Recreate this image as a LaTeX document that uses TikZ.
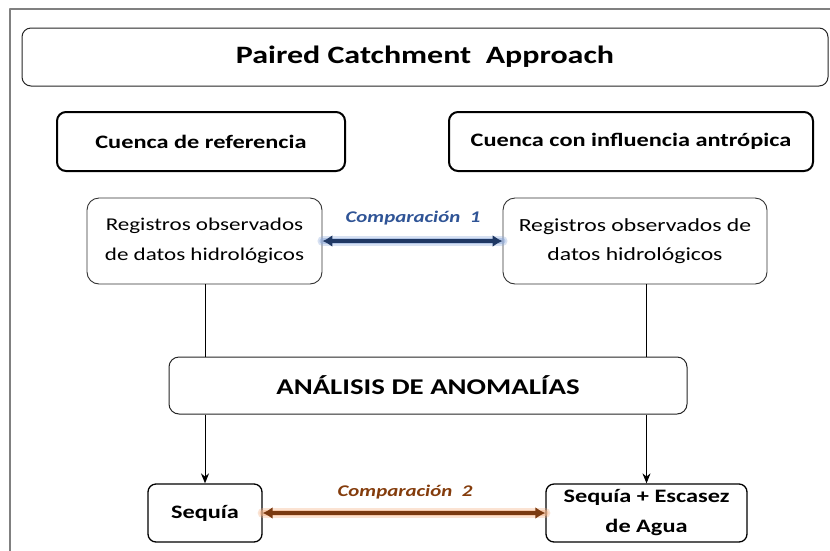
\documentclass[tikz,border=0pt]{standalone}
\usepackage{fontspec}
\setmainfont{Carlito}[FakeStretch=1.28]
\usetikzlibrary{arrows.meta}
\tikzset{>=latex}
\tikzset{every text node part/.style={align=center}}
\tikzset{
	titlebox/.style={draw=black!85, line width=1pt, rounded corners=9pt, minimum width=806pt, minimum height=58pt, font=\fontsize{25}{28}\selectfont\bfseries},
	basinbox/.style={draw=black, line width=2pt, rounded corners=9pt, minimum height=59pt, font=\fontsize{19}{22}\selectfont\bfseries},
	databox/.style={draw=black!80, line width=0.9pt, rounded corners=12pt, minimum height=86pt, font=\fontsize{18.5}{29.5}\selectfont},
	resultbox/.style={draw=black, line width=1.3pt, rounded corners=8pt, minimum height=58pt, font=\fontsize{19}{30}\selectfont\bfseries},
	cmplabel/.style={font=\fontsize{16.3}{20}\selectfont\bfseries\itshape},
	link/.style={line width=1pt, black},
}
\definecolor{navyline}{RGB}{31,56,100}
\definecolor{navytext}{RGB}{47,84,150}
\definecolor{navyglow}{RGB}{142,170,219}
\definecolor{brownline}{RGB}{123,58,16}
\definecolor{browntext}{RGB}{132,60,12}
\definecolor{brownglow}{RGB}{244,177,131}
\newcommand{\glowarrow}[4]{%
	\draw[line width=10pt, #3, opacity=0.35, line cap=round] (#1) -- (#2);
	\draw[line width=6pt, #3, opacity=0.5, line cap=round] (#1) -- (#2);
	\draw[line width=3.5pt, #4, {Latex[length=10pt,width=12pt]}-{Latex[length=10pt,width=12pt]}] (#1) -- (#2);
}

\begin{document}
\begin{tikzpicture}[x=1pt, y=-1pt, line join=round]
	\useasboundingbox[fill=white] (0,0) rectangle (830,550);

	% Frame
	\draw[line width=1.2pt, black!50] (10,560) -- (10,9) -- (840,9);

	% Nodes
	\node[titlebox] (title) at (425,57) {Paired Catchment \ Approach};
	\node[basinbox, minimum width=288pt] (refer) at (201,141.5) {Cuenca de referencia};
	\node[basinbox, minimum width=364pt] (antro) at (631,141.5) {Cuenca con influencia antrópica};
	\node[databox, minimum width=235pt, font=\fontsize{18}{29.5}\selectfont] (regL) at (204.5,241) {Registros observados\\de datos hidrológicos};
	\node[databox, minimum width=264pt] (regR) at (635,241) {Registros observados de\\datos hidrológicos};
	\node[draw=black!85, line width=1pt, rounded corners=10pt, minimum width=518pt, minimum height=57pt, font=\fontsize{22.5}{28}\selectfont\bfseries] (anal) at (428,385.5) {ANÁLISIS DE ANOMALÍAS};
	\node[resultbox, minimum width=114pt] (seq) at (205,513) {Sequía};
	\node[resultbox, minimum width=201pt] (seqE) at (646.5,513) {Sequía + Escasez\\de Agua};

	% Comparisons
	\node[cmplabel, text=navytext] (cmpA) at (413,218) {Comparación \ 1};
	\node[cmplabel, text=browntext] (cmpB) at (405,492) {Comparación \ 2};
	\glowarrow{regL.east}{regR.west}{navyglow}{navyline}
	\glowarrow{seq.east}{seqE.west}{brownglow}{brownline}

	% Connectors
	\draw[link] (seq.north |- regL.south) -- (seq.north |- anal.north);
	\draw[link] (seqE.north |- regR.south) -- (seqE.north |- anal.north);
	\draw[link, -{Stealth[length=10pt,width=8pt]}] (seq.north |- anal.south) -- (seq.north);
	\draw[link, -{Stealth[length=10pt,width=8pt]}] (seqE.north |- anal.south) -- (seqE.north);
\end{tikzpicture}
\end{document}
